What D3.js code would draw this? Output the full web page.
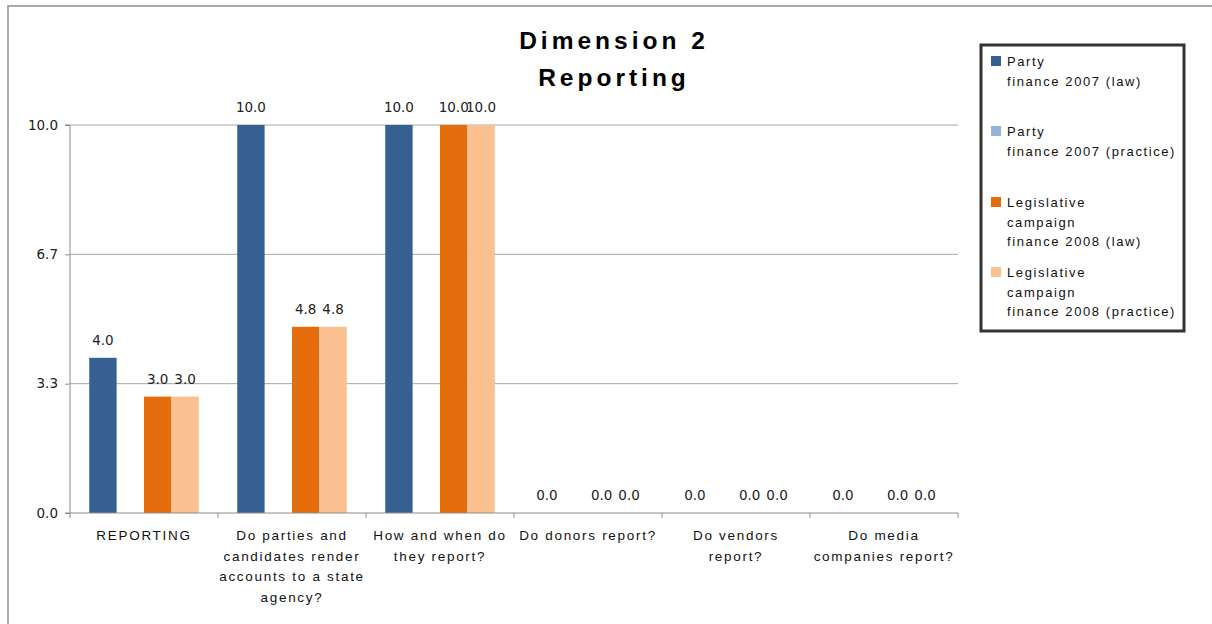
<!DOCTYPE html>
<html><head><meta charset="utf-8">
<script src="https://cdn.jsdelivr.net/npm/d3@7/dist/d3.min.js"></script>
<style>
html,body{margin:0;padding:0;background:#fff;}
svg{display:block;}
</style></head>
<body>
<svg id="c" width="1212" height="624"></svg>
<script>
const categories = [
  ["REPORTING"],
  ["Do parties and", "candidates render", "accounts to a state", "agency?"],
  ["How and when do", "they report?"],
  ["Do donors report?"],
  ["Do vendors", "report?"],
  ["Do media", "companies report?"]
];
const seriesNames = [
  ["Party", "finance 2007 (law)"],
  ["Party", "finance 2007 (practice)"],
  ["Legislative", "campaign", "finance 2008 (law)"],
  ["Legislative", "campaign", "finance 2008 (practice)"]
];
const partyLaw      = [4.0, 10.0, 10.0, 0.0, 0.0, 0.0];
const partyPractice = [null, null, null, null, null, null];
const legLaw        = [3.0, 4.8, 10.0, 0.0, 0.0, 0.0];
const legPractice   = [3.0, 4.8, 10.0, 0.0, 0.0, 0.0];
const colors = ["#376092", "#95B3D7", "#E46C0A", "#FAC090"];
const yTicks = [0, 10/3, 20/3, 10];
const titleLines = ["Dimension 2", "Reporting"];

const series = [partyLaw, partyPractice, legLaw, legPractice];
const svg = d3.select("#c");

// outer border
svg.append("rect").attr("x", 8).attr("y", 6).attr("width", 1220).attr("height", 640)
  .attr("fill", "none").attr("stroke", "#8f8f8f").attr("stroke-width", 1.5);

const L = 70, R = 958, T = 125, B = 513;
const x0 = d3.scaleBand().domain(d3.range(categories.length)).range([L, R]);
const bw = x0.bandwidth();
const x1 = d3.scaleBand().domain(d3.range(series.length)).range([bw * 0.13, bw * 0.87]);
const y = d3.scaleLinear().domain([0, 10]).range([B, T]);

// gridlines
svg.append("g").selectAll("line").data(yTicks.filter(t => t > 0)).join("line")
  .attr("x1", L).attr("x2", R).attr("y1", d => y(d)).attr("y2", d => y(d))
  .attr("stroke", "#a6a6a6").attr("stroke-width", 1);

// bars
const g = svg.append("g");
series.forEach((s, si) => {
  const data = s.map((v, i) => ({v, i})).filter(d => d.v !== null);
  g.append("g").selectAll("rect").data(data).join("rect")
    .attr("x", d => x0(d.i) + x1(si))
    .attr("width", x1.bandwidth())
    .attr("y", d => y(d.v))
    .attr("height", d => B - y(d.v))
    .attr("fill", colors[si]);
  g.append("g").selectAll("text").data(data).join("text")
    .attr("x", d => x0(d.i) + x1(si) + x1.bandwidth() / 2)
    .attr("y", d => y(d.v) - 13)
    .attr("text-anchor", "middle")
    .attr("font-family", "DejaVu Sans, Verdana, sans-serif")
    .attr("font-size", 13.5)
    .attr("fill", "#222")
    .text(d => d.v.toFixed(1));
});

// y axis
const yAxis = d3.axisLeft(y).tickValues(yTicks).tickSize(5).tickPadding(7).tickFormat(d3.format(".1f"));
const ya = svg.append("g").attr("transform", `translate(${L},0)`).call(yAxis);
ya.select(".domain").attr("stroke", "#8c8c8c").attr("d", `M-5,${T}H0V${B}H-5`);
ya.selectAll(".tick line").attr("stroke", "#8c8c8c");
ya.selectAll(".tick text").attr("font-family", "DejaVu Sans, Verdana, sans-serif").attr("font-size", 13.5).attr("fill", "#222");

// x axis line and ticks
svg.append("line").attr("x1", L).attr("x2", R).attr("y1", B).attr("y2", B).attr("stroke", "#8c8c8c");
svg.append("g").selectAll("line").data(d3.range(categories.length + 1)).join("line")
  .attr("x1", d => L + d * bw).attr("x2", d => L + d * bw)
  .attr("y1", B).attr("y2", B + 5).attr("stroke", "#8c8c8c");

// category labels
const cl = svg.append("g").selectAll("text").data(categories).join("text")
  .attr("text-anchor", "middle")
  .attr("font-family", "Liberation Sans, Arial, sans-serif")
  .attr("font-size", 13.5)
  .attr("letter-spacing", 1.7)
  .attr("fill", "#111");
cl.each(function(lines, i) {
  const t = d3.select(this);
  lines.forEach((ln, j) => {
    t.append("tspan").attr("x", x0(i) + bw / 2).attr("y", 540 + j * 20.7).text(ln);
  });
});

// title
svg.append("g").selectAll("text").data(titleLines).join("text")
  .attr("x", 614).attr("y", (d, i) => 49 + i * 37)
  .attr("text-anchor", "middle")
  .attr("font-family", "Liberation Sans, Arial, sans-serif")
  .attr("font-weight", "bold")
  .attr("font-size", 24.5)
  .attr("letter-spacing", 4)
  .attr("fill", "#000")
  .text(d => d);

// legend
svg.append("rect").attr("x", 981).attr("y", 45).attr("width", 203).attr("height", 286)
  .attr("fill", "#fff").attr("stroke", "#333").attr("stroke-width", 3);
const legendTops = [61, 131, 202, 272];
const lg = svg.append("g").selectAll("g").data(seriesNames).join("g");
lg.append("rect").attr("x", 991).attr("y", (d, i) => legendTops[i] - 5).attr("width", 10).attr("height", 10)
  .attr("fill", (d, i) => colors[i]);
lg.each(function(lines, i) {
  const t = d3.select(this).append("text")
    .attr("font-family", "Liberation Sans, Arial, sans-serif")
    .attr("font-size", 13)
    .attr("letter-spacing", 1.6)
    .attr("fill", "#111");
  lines.forEach((ln, j) => {
    t.append("tspan").attr("x", 1007).attr("y", legendTops[i] + 5 + j * 19.7).text(ln);
  });
});
</script>
</body></html>
